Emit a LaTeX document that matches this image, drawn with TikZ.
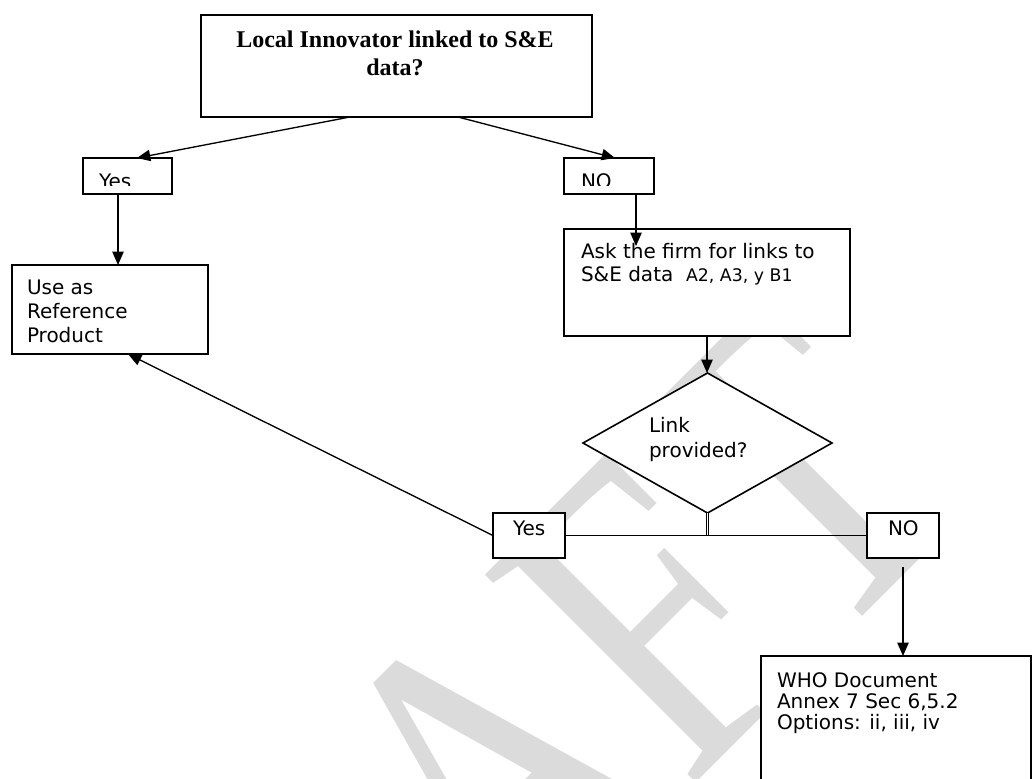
\documentclass[tikz,border=0pt]{standalone}
\usepackage{graphicx}
\usepackage{fontspec}
\setmainfont{DejaVu Sans}
\newfontfamily\qfont{Liberation Serif}
\usetikzlibrary{shapes.geometric,arrows.meta}
\newcommand\mlines[1]{\begin{tabular}[t]{@{}l@{}}#1\end{tabular}}
\newcommand\clines[1]{\begin{tabular}[t]{@{}c@{}}#1\end{tabular}}
\begin{document}
\begin{tikzpicture}[x=0.75pt,y=-0.75pt,
  box/.style={draw, fill=white, line width=1.2pt, rectangle, inner sep=0pt, outer sep=0pt, anchor=north west},
  txt/.style={inner sep=0pt, outer sep=0pt, anchor=base west, font=\fontsize{15}{18}\selectfont},
  conn/.style={line width=1pt},
  arr/.style={conn, -{Triangle[length=10pt,width=8.5pt]}},
  wmark/.style={inner sep=0pt, anchor=base west, rotate=45, text=black!14, font=\qfont\fontsize{339}{339}\selectfont}]
\useasboundingbox (0,0) rectangle (1034,778);
\clip (0,0) rectangle (1034,778);
\fill[white] (0,0) rectangle (1034,778);
% watermark
\node[wmark] (wm) at (164,1315) {\scalebox{0.775}[1]{DRAFT}};
% boxes
\node[box, minimum width=293.25pt, minimum height=76.5pt] (Q) at (201,15) {};
\node[box, minimum width=66.75pt, minimum height=27pt] (Yes1) at (83,158) {};
\node[box, minimum width=67.5pt, minimum height=27pt] (NO1) at (564,158) {};
\node[box, minimum width=214.5pt, minimum height=80.25pt] (Ask) at (564,229) {};
\node[box, minimum width=147pt, minimum height=66.75pt] (Use) at (12,265) {};
\node[draw, fill=white, line width=1.2pt, diamond, inner sep=0pt, outer sep=0pt, minimum width=186.75pt, minimum height=105pt] (Dia) at (707.5,443) {};
\node[box, minimum width=54pt, minimum height=33.75pt] (Yes2) at (493,513) {};
\node[box, minimum width=54pt, minimum height=33.75pt] (NO2) at (867,513) {};
\node[box, minimum width=202.5pt, minimum height=120pt] (WHO) at (761,656) {};
% texts
\node[inner sep=0pt, anchor=base, font=\qfont\bfseries\fontsize{18}{21}\selectfont] (QT) at (395,47) {\clines{Local Innovator linked to S\&E\\data?}};
\begin{scope}
\clip (83,158) rectangle (172,185);
\node[txt] (Yes1T) at (99,188) {Yes};
\end{scope}
\begin{scope}
\clip (564,158) rectangle (654,185);
\node[txt] (NO1T) at (581,188) {NO};
\end{scope}
\node[txt, font=\fontsize{15}{17.25}\selectfont] (AskT) at (581,258) {\mlines{Ask the firm for links to\\S\&E data\ \ {\fontsize{13}{14}\selectfont A2, A3, y B1}}};
\node[txt] (UseT) at (27,294) {\mlines{Use as\\Reference\\Product}};
\node[txt, font=\fontsize{15}{18.75}\selectfont] (DiaT) at (649,432) {\mlines{Link\\provided?}};
\node[txt] (Yes2T) at (513,535) {Yes};
\node[txt] (NO2T) at (888,535) {NO};
\node[txt, font=\fontsize{15}{15.75}\selectfont] (WHOT) at (777,687) {\mlines{WHO Document\\Annex 7 Sec 6,5.2\\Options: ii, iii, iv}};
% connectors
\draw[arr] ([xshift=-34.9pt]Q.south) -- ([xshift=7.1pt]Yes1.north);
\draw[arr] ([xshift=46.1pt]Q.south) -- ([xshift=4.5pt]NO1.north);
\draw[arr] ([xshift=20.25pt]NO1.south) -- ([xshift=-53.25pt,yshift=-12.75pt]Ask.north);
\draw[arr] ([xshift=-7.125pt]Yes1.south) -- ([xshift=6pt]Use.north);
\draw[arr] (Ask.south) -- (Ask.south |- Dia.north);
\coordinate (J) at (Dia.south |- Yes2.east);
\draw[double, double distance=0.9pt, line width=0.75pt] (Dia.south) -- (J);
\draw[conn] (Yes2.east) -- (NO2.west);
\draw[arr] ([yshift=-6.75pt]NO2.south) -- ([xshift=5.25pt]WHO.north);
\draw[arr] (Yes2.west) -- ([xshift=13.5pt]Use.south);
\end{tikzpicture}
\end{document}
